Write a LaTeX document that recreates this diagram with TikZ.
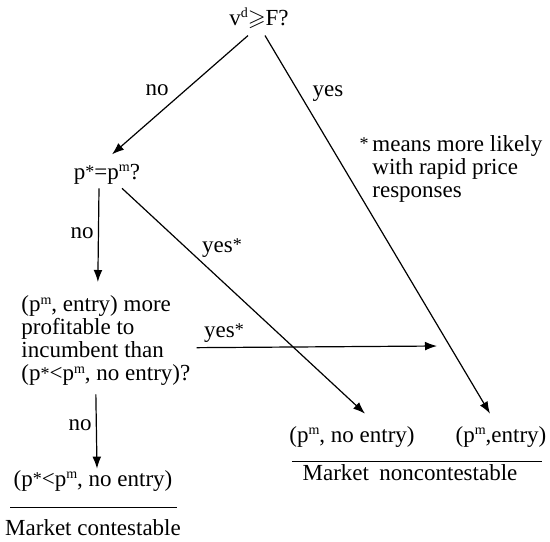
\documentclass[tikz,border=0pt]{standalone}
\usepackage{amsmath,amssymb}
\usepackage{fontspec}
\setmainfont{Liberation Serif}
\usetikzlibrary{arrows.meta, positioning}
\newcommand{\hi}[1]{\raisebox{0.32em}{\scriptsize #1}}
\newcommand{\st}{\raisebox{0.08em}{\small *}}
\tikzset{
  lbl/.style={inner sep=0pt, anchor=base,
    font=\fontsize{11.5}{11.6}\selectfont},
  para/.style={inner sep=0pt, anchor=north west, align=left,
    font=\fontsize{11.5}{11.6}\selectfont},
  arrow/.style={-{Latex[length=6pt,width=4.4pt]}, line width=0.6pt},
  rule/.style={line width=0.45pt}
}

\begin{document}
\begin{tikzpicture}[x=0.5pt, y=-0.5pt]
  \useasboundingbox (0,0) rectangle (550,541);
  % questions
  \node[lbl] (root) at (259,25) {v\hi{d}$\geqslant$F?};
  \node[lbl] (eq) at (107,179) {p\st=p\hi{m}?};
  \node[para] (prof) at (21,295) {(p\hi{m}, entry) more\\
    profitable to\\ incumbent than\\
    (p\st<p\hi{m}, no entry)?};
  \node[para] (note) at (372,135) {\llap{\st\,}means more likely\\
    with rapid price\\ responses};
  % outcomes
  \node[lbl] (cont) at (93,486) {(p\st<p\hi{m}, no entry)};
  \node[lbl] (nonent) at (352,442) {(p\hi{m}, no entry)};
  \node[lbl] (entry) at (501,442) {(p\hi{m},entry)};
  \node[lbl] (mc) at (93,535) {Market contestable};
  \node[lbl] (mnc) at (410,480) {Market\hspace{0.45em}noncontestable};
  % branch labels
  \node[lbl] (no1) at (157,95) {no};
  \node[lbl] (yes1) at (328,96) {yes};
  \node[lbl] (no2) at (82,238) {no};
  \node[lbl] (yes2) at (222,252) {yes\st};
  \node[lbl] (yes3) at (224,337) {yes\st};
  \node[lbl] (no3) at (80,430) {no};
  \coordinate (hend) at (437,346);
  % arrows
  \draw[arrow] ([shift={(-11,7)}]root.south) -- ([shift={(5,-9)}]eq.north);
  \draw[arrow] ([shift={(6,7)}]root.south) -- ([shift={(-11,-12)}]entry.north);
  \draw[arrow] ([shift={(-8,4)}]eq.south) -- ([shift={(-8,-13)}]prof.north);
  \draw[arrow] ([shift={(15,4)}]eq.south) -- ([shift={(13,-12)}]nonent.north);
  \draw[arrow] ([shift={(6,7)}]prof.east) -- (hend);
  \draw[arrow] ([shift={(-10,8)}]prof.south) -- ([shift={(4,-1)}]cont.north);
  % underlines
  \draw[rule] ([shift={(-3,16)}]cont.south west) -- ([shift={(4,16)}]cont.south east);
  \draw[rule] ([shift={(3,14)}]nonent.south west) -- ([shift={(-5,14)}]entry.south east);
\end{tikzpicture}
\end{document}
